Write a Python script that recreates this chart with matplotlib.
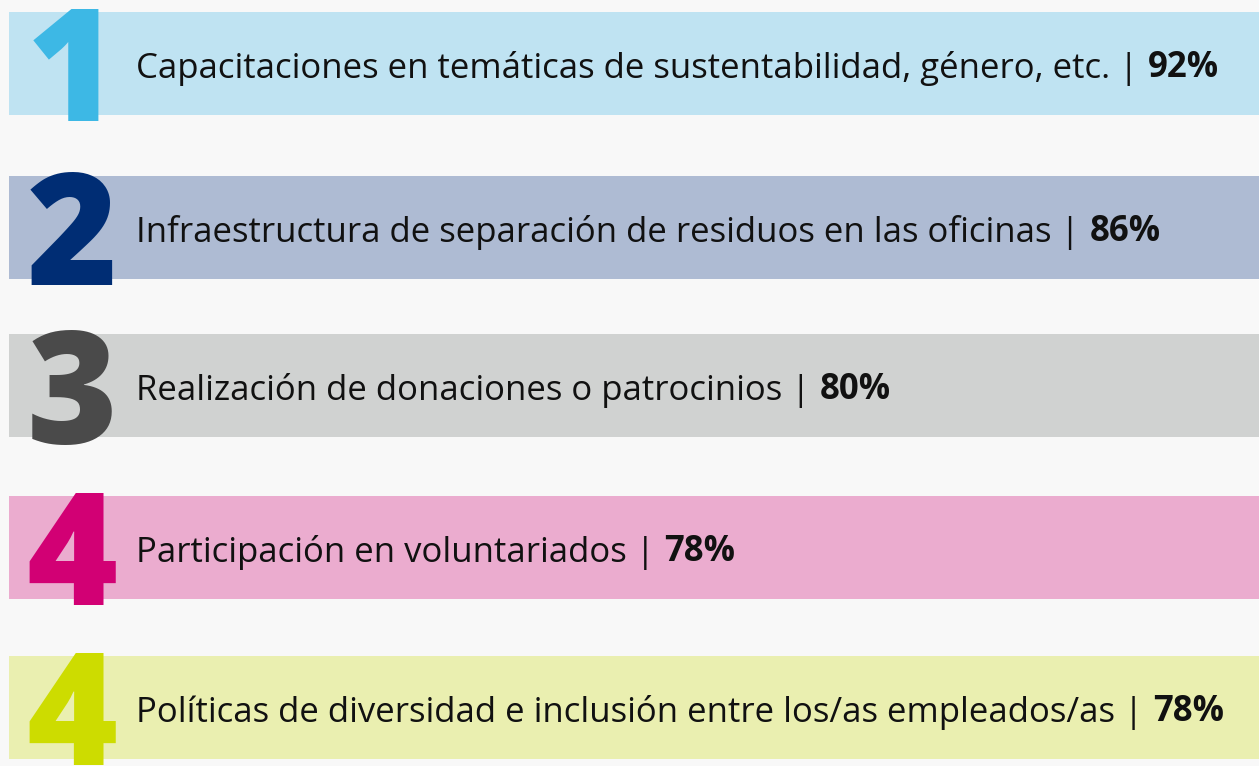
import matplotlib
matplotlib.use("Agg")
import matplotlib.pyplot as plt

# ---- data ----
ranks = ["1", "2", "3", "4", "4"]
labels = [
    "Capacitaciones en temáticas de sustentabilidad, género, etc.",
    "Infraestructura de separación de residuos en las oficinas",
    "Realización de donaciones o patrocinios",
    "Participación en voluntariados",
    "Políticas de diversidad e inclusión entre los/as empleados/as",
]
values = [92, 86, 80, 78, 78]

band_colors = ["#bfe3f2", "#aebbd3", "#d0d2d1", "#ebaccf", "#eaefb0"]
digit_colors = ["#3db8e5", "#002d74", "#4a4a4a", "#d20074", "#cddc00"]
band_centers = [63.5, 227.5, 385.5, 547.5, 707.5]
band_h = 103

W, H = 1259, 766
fig = plt.figure(figsize=(W / 100, H / 100), dpi=100)
fig.patch.set_facecolor("#f8f8f8")
ax = fig.add_axes([0, 0, 1, 1])
ax.set_xlim(0, W)
ax.set_ylim(H, 0)
ax.axis("off")

ax.barh(band_centers, [W - 9] * len(values), left=9, height=band_h,
        color=band_colors, zorder=1)

for i, (r, lab, v) in enumerate(zip(ranks, labels, values)):
    yc = band_centers[i]
    bottom = yc + band_h / 2
    ax.text(72, bottom + 6, r, fontsize=112, fontweight="heavy",
            family="Open Sans", color=digit_colors[i], ha="center",
            va="baseline", zorder=2, clip_on=True)
    t = ax.text(136, yc + 5, lab + " |", fontsize=25, family="Open Sans",
                color="#111111", ha="left", va="center", zorder=3)
    ax.annotate(f"{v}%", xy=(1, 0), xycoords=t, xytext=(7, 0),
                textcoords="offset points", fontsize=25, family="Open Sans",
                fontweight="bold", color="#111111", ha="left", va="bottom",
                zorder=3)

fig.savefig("out.png", dpi=100, facecolor=fig.get_facecolor())
